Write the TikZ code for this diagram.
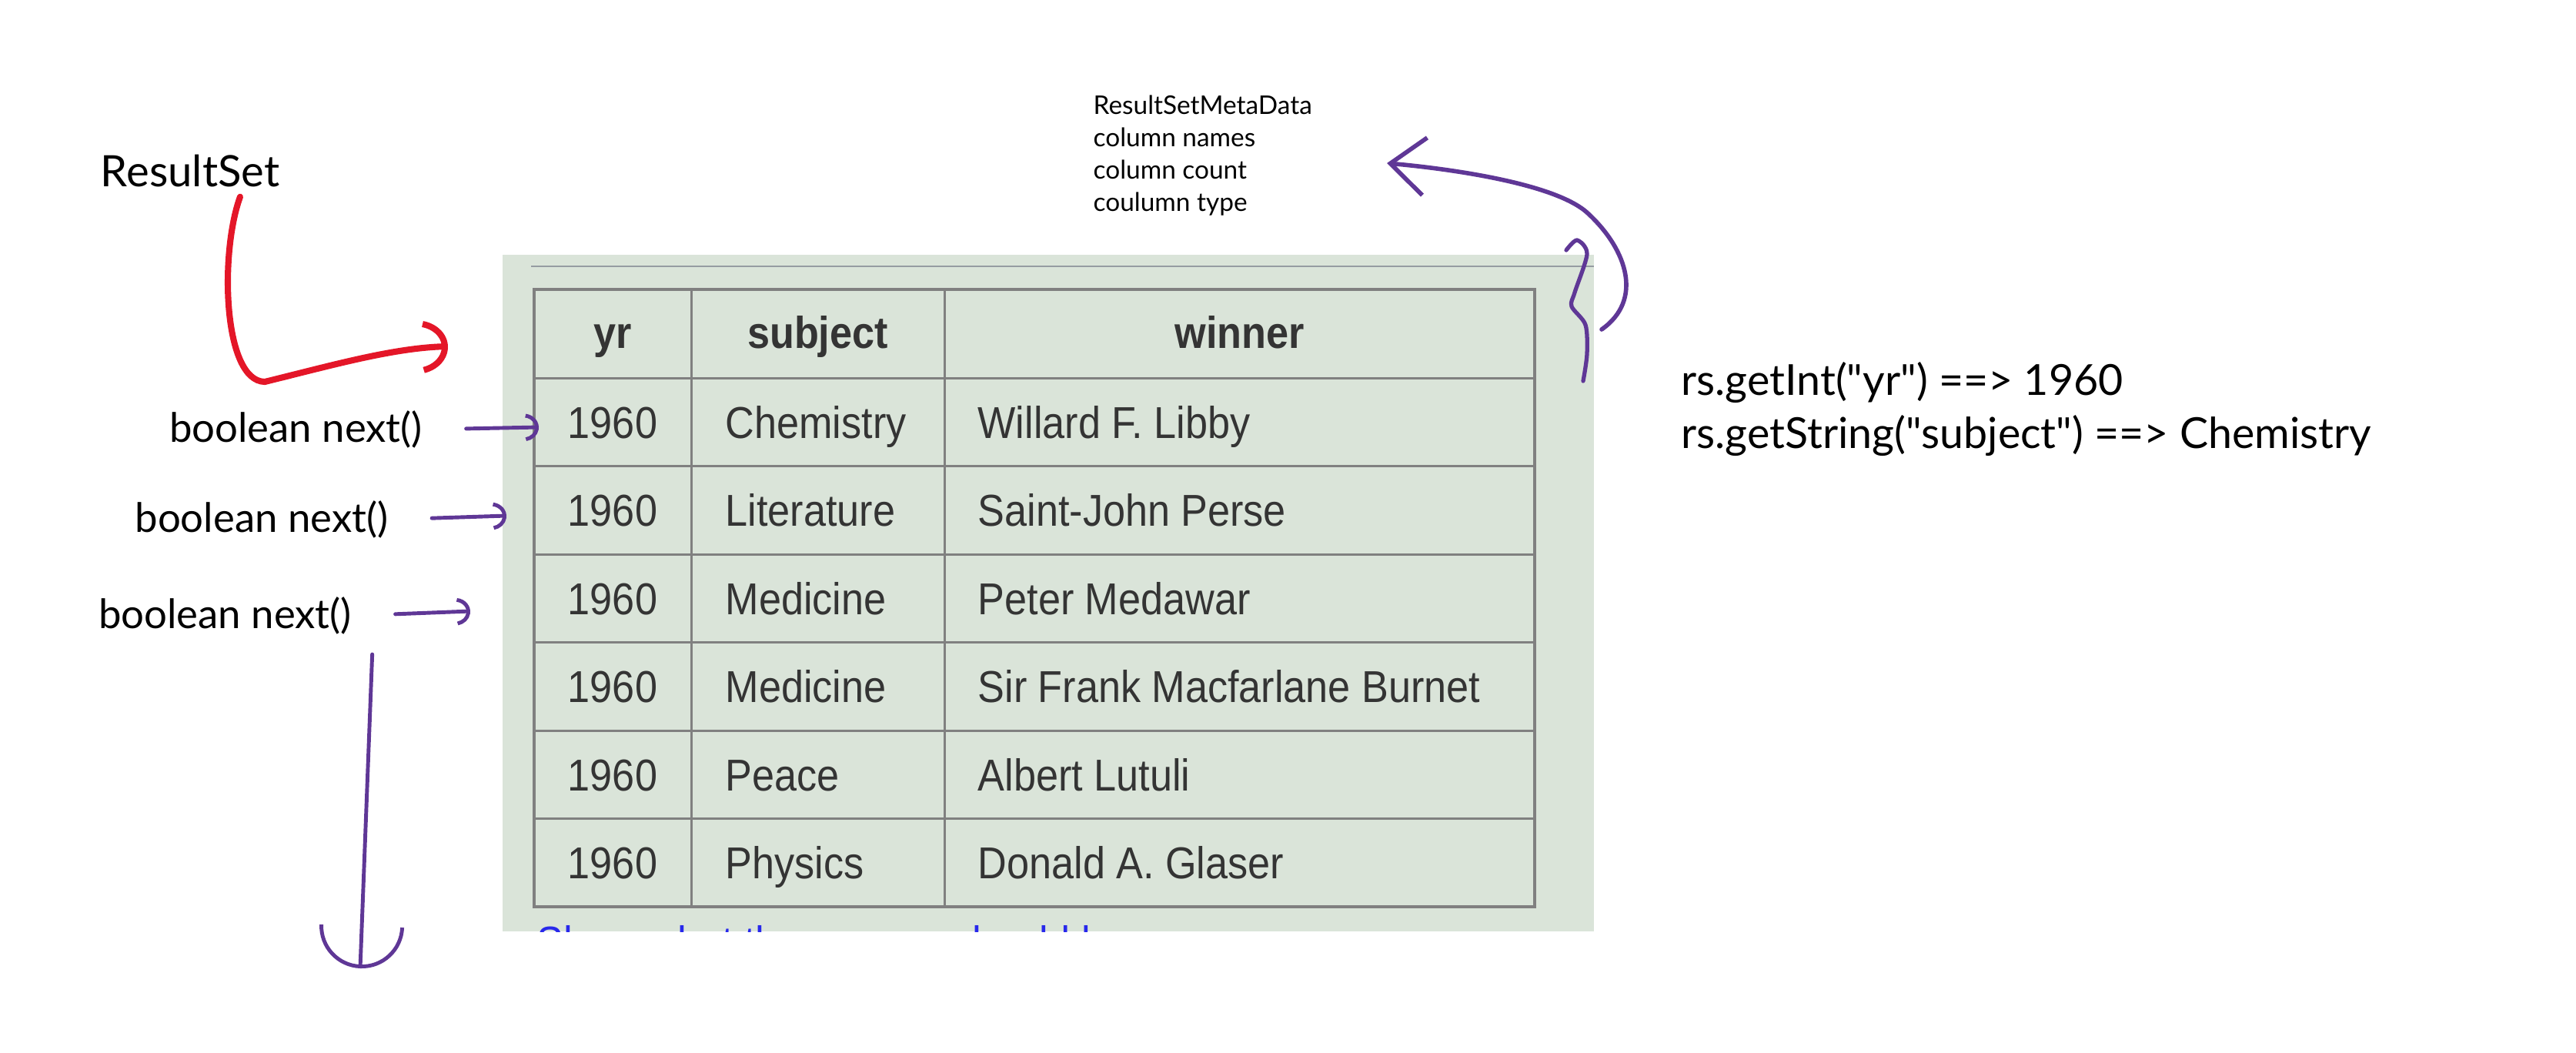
\documentclass[tikz,border=0pt]{standalone}
\usepackage{fontspec}
\setmainfont{Liberation Sans}
\newfontfamily\tabfont[FakeStretch=0.9]{Liberation Sans}
\newfontfamily\handfont{Lato}
\usetikzlibrary{arrows.meta}
\usetikzlibrary{positioning}

\definecolor{panelgreen}{RGB}{218,228,217}
\definecolor{gridgray}{RGB}{128,128,128}
\definecolor{rulegray}{RGB}{150,156,162}
\definecolor{celltext}{RGB}{52,52,52}
\definecolor{linkblue}{RGB}{40,40,235}
\definecolor{inkpurple}{RGB}{95,55,150}
\definecolor{inkred}{RGB}{228,22,40}

\begin{document}
\begin{tikzpicture}[
    cell/.style={font=\tabfont\fontsize{16.5}{20}\selectfont, text=celltext, anchor=base, inner sep=0pt},
    head/.style={cell, font=\tabfont\bfseries\fontsize{16.5}{20}\selectfont},
    gridline/.style={gridgray, line width=0.85pt},
    hand/.style={font=\handfont\fontsize{15}{18}\selectfont, inner sep=0pt},
    metanote/.style={font=\handfont\fontsize{9.5}{12}\selectfont, align=left, inner sep=0pt},
    rsnote/.style={font=\handfont\fontsize{15.8}{19}\selectfont, inner sep=0pt},
    nextarrow/.style={inkpurple, line width=1.4pt, line cap=round, -{Arc Barb[length=0.2cm,width=0.36cm,arc=160]}},
    redarrow/.style={inkred, line width=2.3pt, line cap=round, -{Arc Barb[length=0.42cm,width=0.7cm,arc=150]}},
    downarrow/.style={inkpurple, line width=1.4pt, line cap=round, -{Arc Barb[length=0.55cm,width=1.1cm]}},
    metaarrow/.style={inkpurple, line width=1.6pt, line cap=round, -{Straight Barb[length=0.45cm,width=0.75cm]}},
    curl/.style={inkpurple, line width=1.5pt, line cap=round}
]
\useasboundingbox (0,0) rectangle (33.47,-13.67);

% screenshot of the query result
\fill[panelgreen] (6.53,-3.31) rectangle (20.71,-12.10);
\draw[rulegray, line width=0.8pt] (6.90,-3.46) -- (20.71,-3.46);
\begin{scope}
    \clip (6.53,-3.31) rectangle (20.71,-12.10);
    \node[cell, text=linkblue, anchor=base west] (showlink) at (6.97,-12.44) {Show what the answer should be};
\end{scope}

\draw[gridline, line width=1.3pt] (6.94,-3.76) rectangle (19.94,-11.78);
\foreach \x in {8.98,12.27}
    \draw[gridline] (\x,-3.76) -- (\x,-11.78);
\foreach \y in {4.91,6.055,7.20,8.345,9.49,10.635}
    \draw[gridline] (6.94,-\y) -- (19.94,-\y);

\node[head] (hyr) at (7.96,-4.52) {yr};
\node[head] (hsubject) at (10.625,-4.52) {subject};
\node[head] (hwinner) at (16.105,-4.52) {winner};

\foreach \subj/\who [count=\r] in {Chemistry/Willard F. Libby, Literature/Saint-John Perse,
        Medicine/Peter Medawar, Medicine/Sir Frank Macfarlane Burnet,
        Peace/Albert Lutuli, Physics/Donald A. Glaser} {
    \pgfmathsetmacro\yb{-5.69-(\r-1)*1.145}
    \node[cell] (yr\r) at (7.96,\yb) {1960};
    \node[cell, anchor=base west] (subj\r) at (9.42,\yb) {\subj};
    \node[cell, anchor=base west] (win\r) at (12.70,\yb) {\who};
}

% notes
\node[hand, font=\handfont\fontsize{16}{19}\selectfont] (resultset) at (2.47,-2.22) {ResultSet};
\node[hand] (next1) at (3.845,-5.58) {boolean next()};
\node[hand] (next2) at (3.40,-6.75) {boolean next()};
\node[hand] (next3) at (2.925,-8.00) {boolean next()};

\node[metanote, anchor=north west] (meta) at (14.20,-1.23)
    {ResultSetMetaData\\column names\\column count\\coulumn type};

\node[rsnote, anchor=base west] (getint) at (21.84,-5.13) {rs.getInt("yr") ==> 1960};
\node[rsnote, below=0.69cm of getint.base west, anchor=base west] (getstr) {rs.getString("subject") ==> Chemistry};

\coordinate (tip1) at (7.00,-5.55);
\coordinate (tip2) at (6.58,-6.70);
\coordinate (tip3) at (6.11,-7.94);
\coordinate (rstip) at (5.82,-4.50);
\coordinate (downend) at (4.68,-12.58);
\coordinate (bracetip) at (20.81,-4.28);
\coordinate (metatip) at (18.02,-2.12);

% arrows
\draw[nextarrow, shorten <=0.56cm] (next1.east) -- (tip1);
\draw[nextarrow, shorten <=0.56cm] (next2.east) -- (tip2);
\draw[nextarrow, shorten <=0.56cm] (next3.east) -- (tip3);
\draw[redarrow] ([xshift=0.65cm,yshift=-0.12cm]resultset.south)
    .. controls (2.85,-3.3) and (2.90,-4.95) .. (3.44,-4.96)
    .. controls (4.30,-4.75) and (5.10,-4.52) .. (rstip);
\draw[downarrow] ([xshift=0.26cm,yshift=-0.25cm]next3.south east) -- (downend);

\draw[curl] plot[smooth] coordinates {(20.35,-3.25) (20.49,-3.12) (20.62,-3.30) (20.46,-3.80)
    (20.42,-3.98) (20.60,-4.22) (20.62,-4.60) (20.57,-4.95)};
\draw[metaarrow] (bracetip) .. controls (21.35,-3.90) and (21.15,-3.25) .. (20.63,-2.77)
    .. controls (20.18,-2.35) and (18.60,-2.17) .. (metatip);
\end{tikzpicture}
\end{document}
